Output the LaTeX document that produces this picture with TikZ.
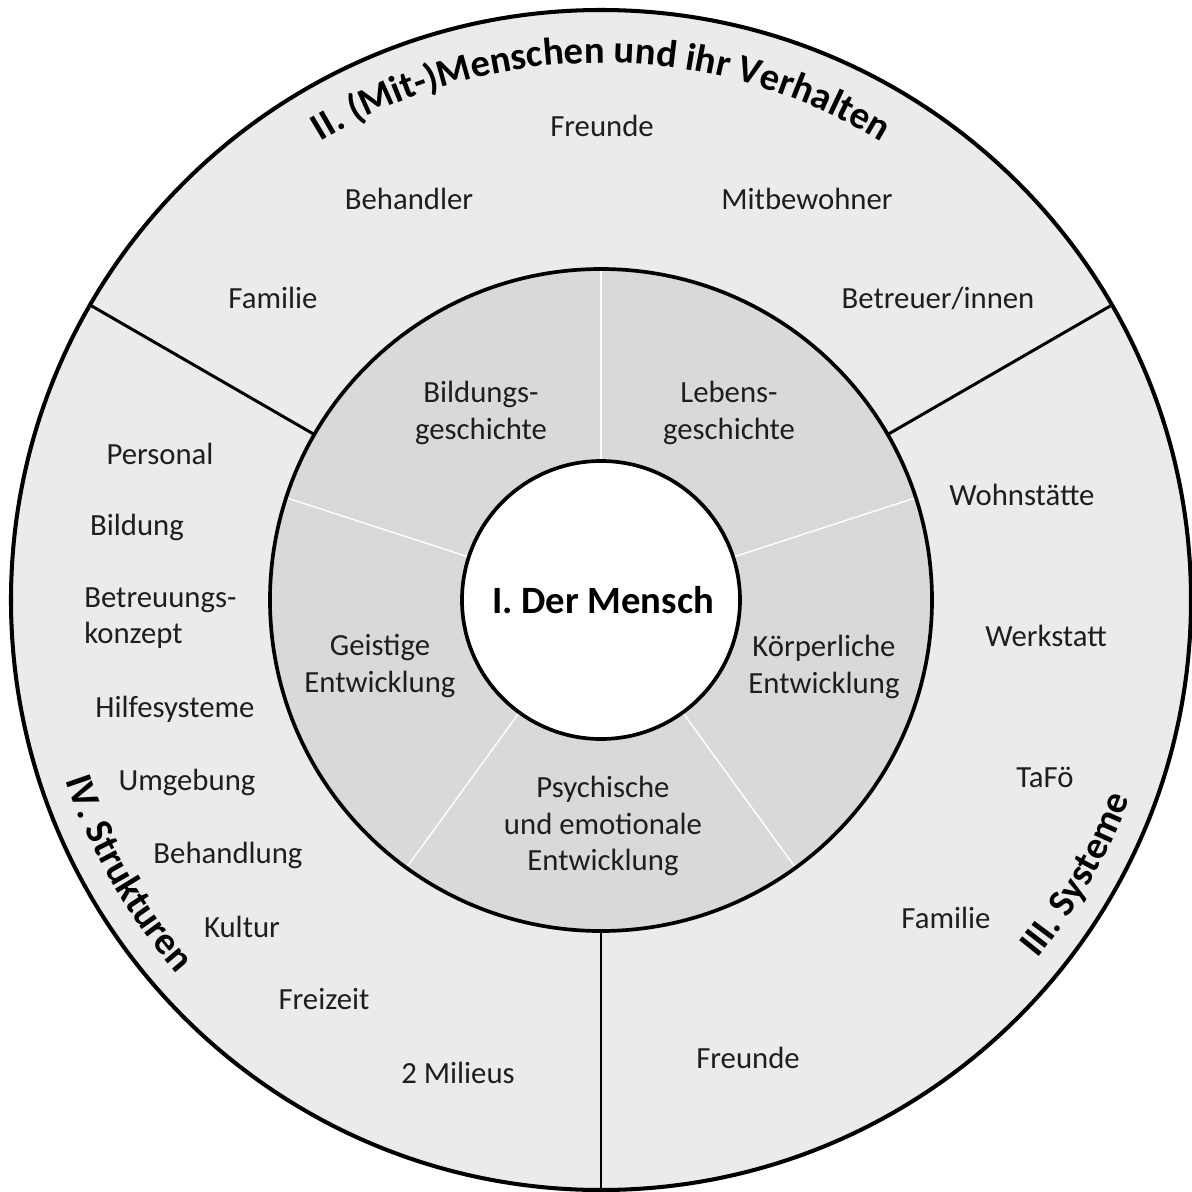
\documentclass[tikz,border=0pt]{standalone}
\usepackage{fontspec}
\setmainfont{Carlito}
\usepackage{tikz}
\usetikzlibrary{decorations.text}
\definecolor{ringlight}{RGB}{235, 235, 235}
\definecolor{ringmid}{RGB}{217, 217, 217}
\definecolor{inktext}{RGB}{30, 30, 30}

\begin{document}
\begin{tikzpicture}[
    x=0.02cm, y=0.02cm,
    font=\fontsize{17.5}{20.8}\selectfont,
    item/.style={text=inktext, inner sep=0pt, align=center},
    divider/.style={line width=1.7pt},
    spoke/.style={white, line width=0.8pt},
    rim/.style={line width=2.1pt}
]
    \useasboundingbox (-601,-591) rectangle (591,600);

    % ==========================================
    % RINGS
    % ==========================================
    \coordinate (c) at (0,0);

    % Outer ring (II, III, IV)
    \draw[rim, fill=ringlight, line width=2.3pt] (c) circle[radius=590];
    \draw[divider] (150:331) -- (150:590);
    \draw[divider] (30:331)  -- (30:590);
    \draw[divider] (270:331) -- (270:590);

    % Middle ring (five areas of I)
    \fill[ringmid] (c) circle[radius=331];
    \foreach \a in {18, 90, 162, 234, 306}
        \draw[spoke] (\a:139) -- (\a:331);
    \draw[rim] (c) circle[radius=331];

    % Core
    \draw[rim, fill=white] (c) circle[radius=139];


    % ==========================================
    % CURVED HEADINGS
    % ==========================================
    \path[decorate, decoration={text along path, text align=center,
        text={|\bfseries\fontsize{22}{26}\selectfont|II. (Mit-)Menschen und ihr Verhalten}}]
        (150:537) arc[start angle=150, end angle=30, radius=537];

    \path[decorate, decoration={text along path, text align=center,
        text={|\bfseries\fontsize{22}{26}\selectfont|III. Systeme}}]
        (-60:565) arc[start angle=-60, end angle=0, radius=565];

    \path[decorate, decoration={text along path, text align=center,
        text={|\bfseries\fontsize{22}{26}\selectfont|IV. Strukturen}}]
        (180:565) arc[start angle=180, end angle=240, radius=565];


    % ==========================================
    % CORE AND MIDDLE RING
    % ==========================================
    \node[item, font=\bfseries\fontsize{22}{26}\selectfont, text=black] (mensch) at (2,0) {I. Der Mensch};

    \node[item] (bildungsg) at (-120,187) {Bildungs-\\geschichte};
    \node[item] (lebensg)   at (128,187)  {Lebens-\\geschichte};
    \node[item] (geistig)   at (-221,-66) {Geistige\\Entwicklung};
    \node[item] (koerper)   at (223,-67)  {Körperliche\\Entwicklung};
    \node[item] (psyche)    at (2,-226)   {Psychische\\und emotionale\\Entwicklung};


    % ==========================================
    % II. (MIT-)MENSCHEN
    % ==========================================
    \node[item] (freunde_top)  at (1,474)    {Freunde};
    \node[item] (behandler)    at (-192,401) {Behandler};
    \node[item] (mitbewohner)  at (206,401)  {Mitbewohner};
    \node[item] (familie_top)  at (-328,302) {Familie};
    \node[item] (betreuer)     at (337,302)  {Betreuer/innen};


    % ==========================================
    % IV. STRUKTUREN
    % ==========================================
    \node[item] (personal)     at (-441,146)  {Personal};
    \node[item] (bildung)      at (-464,73)   {Bildung};
    \node[item, anchor=west, align=left] (konzept) at (-517,-18) {Betreuungs-\\konzept};
    \node[item] (hilfe)        at (-426,-109) {Hilfesysteme};
    \node[item] (umgebung)     at (-414,-182) {Umgebung};
    \node[item] (behandlung)   at (-373,-255) {Behandlung};
    \node[item] (kultur)       at (-359,-327) {Kultur};
    \node[item] (freizeit)     at (-277,-399) {Freizeit};
    \node[item] (milieus)      at (-143,-473) {2 Milieus};


    % ==========================================
    % III. SYSTEME
    % ==========================================
    \node[item] (wohnstaette)  at (421,105)  {Wohnstätte};
    \node[item] (werkstatt)    at (445,-36)  {Werkstatt};
    \node[item] (tafoe)        at (444,-177) {TaFö};
    \node[item] (familie_bot)  at (345,-318) {Familie};
    \node[item] (freunde_bot)  at (147,-458) {Freunde};

\end{tikzpicture}
\end{document}
